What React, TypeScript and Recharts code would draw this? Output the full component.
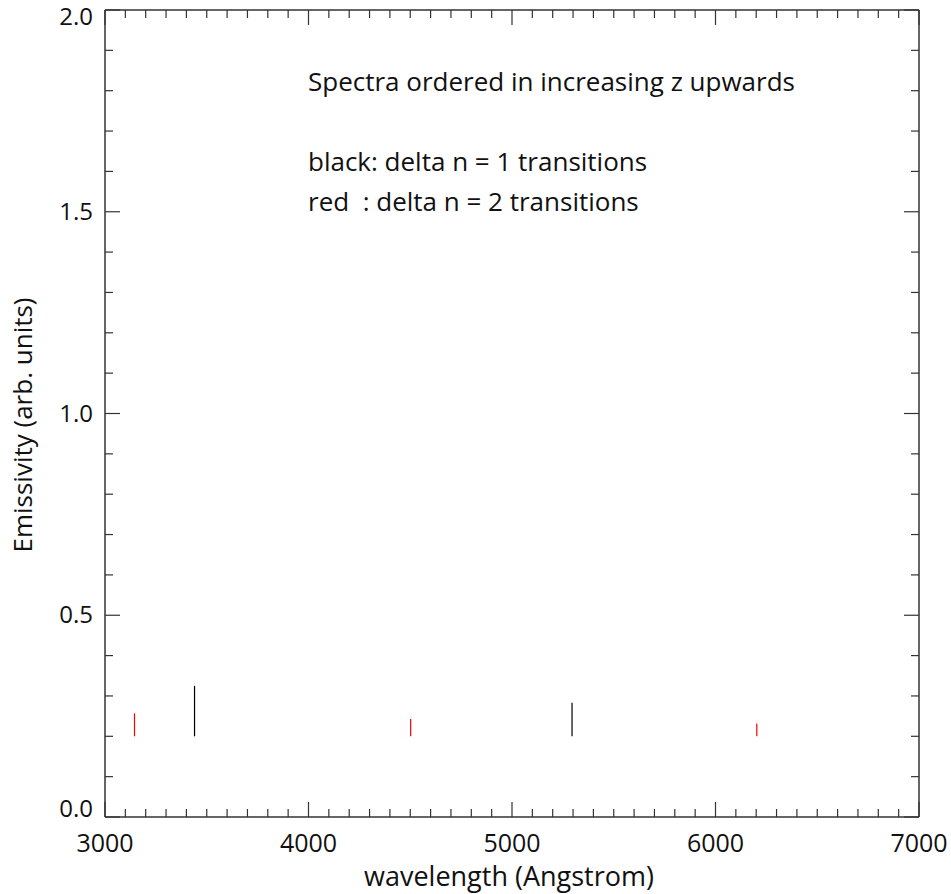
import React from 'react';
import { LineChart, Line, XAxis, YAxis } from 'recharts';

// line positions (Angstrom) and peak emissivity
const blackWavelengths = [3440, 5295];
const blackPeaks = [0.325, 0.283];
const redWavelengths = [3145, 4502, 6203];
const redPeaks = [0.257, 0.243, 0.232];
const lineBase = 0.2;

const xMajorTicks = [3000, 4000, 5000, 6000, 7000];
const yMajorTicks = [0.0, 0.5, 1.0, 1.5, 2.0];

const notes = [
  'Spectra ordered in increasing z upwards',
  'black: delta n = 1 transitions',
  'red  : delta n = 2 transitions',
];

const xTicks: number[] = [];
for (let w = 3000; w <= 7000; w += 100) xTicks.push(w);
const yTicks: number[] = [];
for (let i = 0; i <= 20; i++) yTicks.push(i / 10);

const segments = (ws: number[], peaks: number[]) =>
  ws.map((w, i) => [
    { w, e: lineBase },
    { w, e: peaks[i] },
  ]);

const blackLines = segments(blackWavelengths, blackPeaks);
const redLines = segments(redWavelengths, redPeaks);

const axisColor = '#333';
const textColor = '#111';
const fontFamily = '"Open Sans", "Noto Sans", sans-serif';

const isMajorX = (v: number) => xMajorTicks.includes(v);
const isMajorY = (v: number) => yMajorTicks.some((t) => Math.abs(t - v) < 1e-6);

const BottomTick = ({ x, y, payload }: any) => {
  const major = isMajorX(payload.value);
  return (
    <g>
      <line x1={x} x2={x} y1={y} y2={y - (major ? 15 : 8)} stroke={axisColor} strokeWidth={1.2} />
      {major && (
        <text x={x} y={y + 35} textAnchor="middle" fontSize={25} fill={textColor}>
          {payload.value}
        </text>
      )}
    </g>
  );
};

const TopTick = ({ x, y, payload }: any) => {
  const major = isMajorX(payload.value);
  return <line x1={x} x2={x} y1={y} y2={y + (major ? 15 : 8)} stroke={axisColor} strokeWidth={1.2} />;
};

const LeftTick = ({ x, y, payload }: any) => {
  const v = payload.value;
  const major = isMajorY(v);
  // IDL keeps the end labels inside the axis range
  let dy = 8;
  if (v === 0) dy = 0;
  if (v === 2) dy = 15;
  return (
    <g>
      <line x1={x} x2={x + (major ? 15 : 8)} y1={y} y2={y} stroke={axisColor} strokeWidth={1.2} />
      {major && (
        <text x={x - 12} y={y + dy} textAnchor="end" fontSize={24} fill={textColor}>
          {v.toFixed(1)}
        </text>
      )}
    </g>
  );
};

const RightTick = ({ x, y, payload }: any) => {
  const major = isMajorY(payload.value);
  return <line x1={x} x2={x - (major ? 15 : 8)} y1={y} y2={y} stroke={axisColor} strokeWidth={1.2} />;
};

export default function App() {
  return (
    <div style={{ position: 'absolute', left: 0, top: 0, background: '#fff' }}>
      <LineChart
        width={951}
        height={894}
        margin={{ top: 0, right: 0, bottom: 0, left: 0 }}
        style={{ fontFamily }}
      >
        <XAxis
          xAxisId={0}
          dataKey="w"
          type="number"
          domain={[3000, 7000]}
          allowDataOverflow
          ticks={xTicks}
          interval={0}
          height={77}
          tickSize={0}
          tickMargin={0}
          tickLine={false}
          tick={<BottomTick />}
          axisLine={{ stroke: axisColor, strokeWidth: 1.5 }}
        />
        <XAxis
          xAxisId="top"
          orientation="top"
          dataKey="w"
          type="number"
          domain={[3000, 7000]}
          allowDataOverflow
          ticks={xTicks}
          interval={0}
          height={10}
          tickSize={0}
          tickMargin={0}
          tickLine={false}
          tick={<TopTick />}
          axisLine={{ stroke: axisColor, strokeWidth: 1.5 }}
        />
        <YAxis
          yAxisId={0}
          type="number"
          domain={[0, 2]}
          allowDataOverflow
          ticks={yTicks}
          interval={0}
          width={105}
          tickSize={0}
          tickMargin={0}
          tickLine={false}
          tick={<LeftTick />}
          axisLine={{ stroke: axisColor, strokeWidth: 1.5 }}
        />
        <YAxis
          yAxisId="right"
          orientation="right"
          type="number"
          domain={[0, 2]}
          allowDataOverflow
          ticks={yTicks}
          interval={0}
          width={32}
          tickSize={0}
          tickMargin={0}
          tickLine={false}
          tick={<RightTick />}
          axisLine={{ stroke: axisColor, strokeWidth: 1.5 }}
        />
        {blackLines.map((d, i) => (
          <Line
            key={'b' + i}
            data={d}
            dataKey="e"
            type="linear"
            stroke="#000"
            strokeWidth={1.2}
            dot={false}
            activeDot={false}
            isAnimationActive={false}
          />
        ))}
        {redLines.map((d, i) => (
          <Line
            key={'r' + i}
            data={d}
            dataKey="e"
            type="linear"
            stroke="#ff0000"
            strokeWidth={1.2}
            dot={false}
            activeDot={false}
            isAnimationActive={false}
          />
        ))}
        <text x={308} y={91} fontSize={26} fill={textColor}>
          {notes[0]}
        </text>
        <text x={308} y={171} fontSize={26} fill={textColor} style={{ whiteSpace: 'pre' }}>
          {notes[1]}
        </text>
        <text x={308} y={211} fontSize={26} fill={textColor} style={{ whiteSpace: 'pre' }}>
          {notes[2]}
        </text>
        <text x={509} y={886} fontSize={27} textAnchor="middle" fill={textColor}>
          wavelength (Angstrom)
        </text>
        <text
          x={-425}
          y={32}
          transform="rotate(-90)"
          fontSize={26}
          textAnchor="middle"
          fill={textColor}
        >
          Emissivity (arb. units)
        </text>
      </LineChart>
    </div>
  );
}
